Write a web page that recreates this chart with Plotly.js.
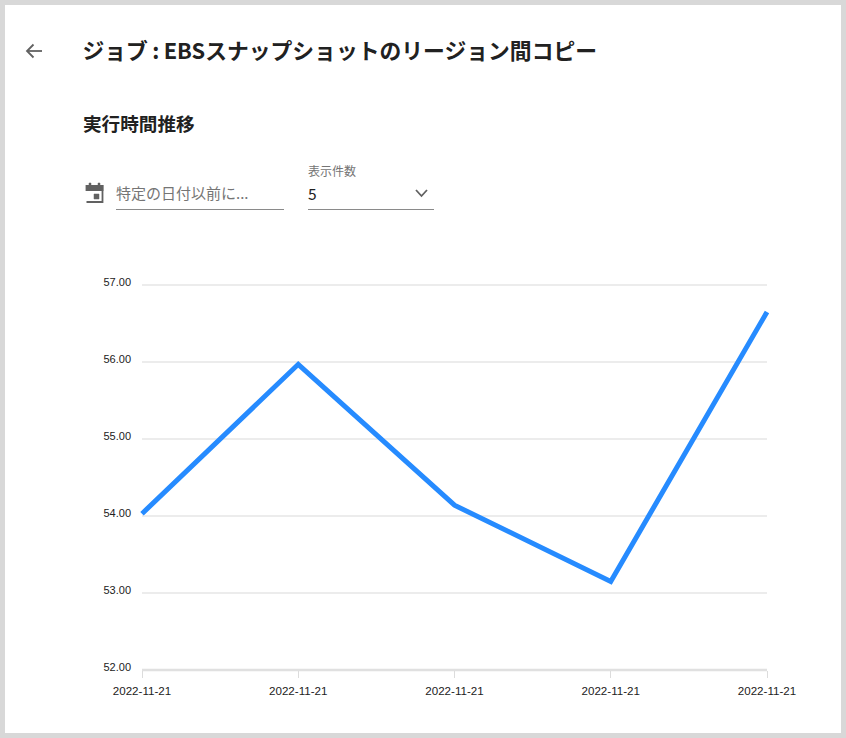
<!DOCTYPE html>
<html><head><meta charset="utf-8">
<script src="https://cdn.plot.ly/plotly-3.0.1.min.js"></script>
<style>html,body{margin:0;padding:0;background:#d8d8d8;width:846px;height:738px;overflow:hidden}
#chart{position:absolute;left:5px;top:5px;width:836px;height:728px;background:#fff}</style>
</head><body><div id="chart"></div>
<script>
const runIndex=[0,1,2,3,4];
const runDates=["2022-11-21","2022-11-21","2022-11-21","2022-11-21","2022-11-21"];
const runTimes=[54.03,55.97,54.14,53.15,56.65];
const yTicks=[52,53,54,55,56,57];
const yLabels=["52.00","53.00","54.00","55.00","56.00","57.00"];
const pageTitle="ジョブ\u2009:\u2009EBSスナップショットのリージョン間コピー";
const sectionTitle="実行時間推移";
const datePlaceholder="特定の日付以前に...";
const countLabel="表示件数";
const countValue="5";

const W=836,H=728,OX=5,OY=5;
const L=142,R=767,T=285,B=670;
const PAD=4, XPAD=PAD*4/(R-L);
const PL=L-PAD, PR=R+PAD;
const px=x=>(x-PL)/(PR-PL), py=y=>(B-y)/(B-T);
const jp='"Noto Sans CJK JP","Noto Sans",sans-serif';
const note=(text,x,y,size,color,weight)=>({text:weight?`<b>${text}</b>`:text,xref:'paper',yref:'paper',x:px(x-2),y:py(y-1),
  xanchor:'left',yanchor:'middle',showarrow:false,font:{family:jp,size:size,color:color}});
const rule=(x0,x1,y,c,w)=>({type:'line',xref:'paper',yref:'paper',x0:px(x0),x1:px(x1),y0:py(y),y1:py(y),line:{color:c,width:w}});
const path=(pts,c,w,fill)=>({type:'path',xref:'paper',yref:'paper',
  path:pts.map((p,i)=>(i?'L':'M')+px(p[0])+','+py(p[1])).join(' ')+(fill?' Z':''),
  line:{color:c,width:w},fillcolor:fill||'rgba(0,0,0,0)'});
const yMin=yTicks[0], yMax=yTicks[yTicks.length-1];
const grid=yTicks.map(v=>({type:'line',layer:'below',xref:'x',yref:'paper',x0:runIndex[0],x1:runIndex[runIndex.length-1],
  y0:(v-yMin)/(yMax-yMin),y1:(v-yMin)/(yMax-yMin),
  line:{color:v===yMin?'#e0e0e0':'#e6e6e6',width:v===yMin?2.5:1.5}}));

const trace={x:runIndex,y:runTimes,type:'scatter',mode:'lines',cliponaxis:false,
  line:{color:'#268bff',width:5,shape:'linear'},hoverinfo:'skip'};
const layout={
  width:W,height:H,paper_bgcolor:'#fff',plot_bgcolor:'rgba(0,0,0,0)',showlegend:false,
  margin:{l:PL-OX,r:OX+W-PR,t:T-OY,b:OY+H-B,pad:0},
  title:{text:`<b>${pageTitle}</b>`,xref:'container',yref:'container',x:(82.5-OX)/W,xanchor:'left',
    y:1-(51-OY)/H,yanchor:'middle',font:{family:jp,size:21.8,color:'#212121'}},
  xaxis:{range:[-XPAD,4+XPAD],tickmode:'array',tickvals:runIndex,ticktext:runDates,showgrid:false,zeroline:false,
    showline:false,ticks:'outside',ticklen:7,tickwidth:1,tickcolor:'#dcdcdc',ticklabelstandoff:3,
    tickfont:{family:'"Liberation Sans",Arial,sans-serif',size:11.6,color:'#222'}},
  yaxis:{range:[yMin,yMax],tickmode:'array',tickvals:yTicks,ticktext:yLabels,showgrid:false,
    zeroline:false,showline:false,ticks:'',ticklabelstandoff:6,ticklabelshift:-3,
    tickfont:{family:'"Liberation Sans",Arial,sans-serif',size:11,color:'#222'}},
  annotations:[
    note(sectionTitle,83,123,18.6,'#212121',true),
    note(datePlaceholder,116,193,15,'#757575'),
    note(countLabel,308,172,12,'#757575'),
    note(countValue,308,194,15.5,'#212121')
  ],
  shapes:grid.concat([
    rule(116,284,209.5,'#8a8a8a',1),
    rule(308,434,209.5,'#8a8a8a',1),
    path([[42,51],[27,51]],'#616161',1.8),
    path([[33.5,44.5],[27,51],[33.5,57.5]],'#616161',1.8),
    path([[416,190],[421.5,196],[427,190]],'#616161',1.8),
    path([[86.5,186],[102.5,186],[102.5,202],[86.5,202]],'#616161',1.8),
    path([[86.5,186],[102.5,186],[102.5,190],[86.5,190]],'#616161',1.8,'#616161'),
    path([[89,183],[91,183],[91,186],[89,186]],'#616161',.5,'#616161'),
    path([[98,183],[100,183],[100,186],[98,186]],'#616161',.5,'#616161'),
    path([[94,194],[99,194],[99,199],[94,199]],'#616161',.5,'#616161')
  ])
};
Plotly.newPlot('chart',[trace],layout,{displayModeBar:false,staticPlot:true});
</script></body></html>
